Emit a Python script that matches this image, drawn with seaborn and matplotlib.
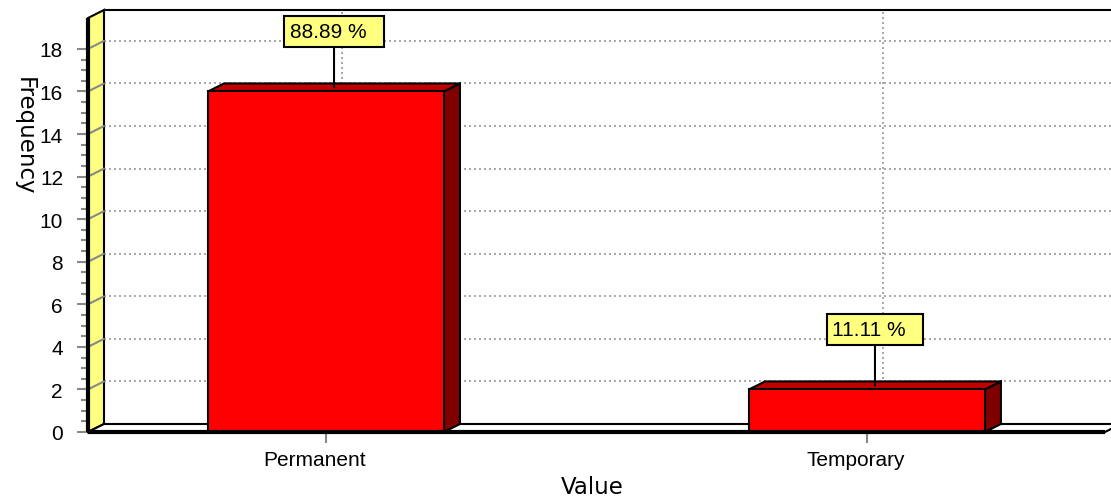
import matplotlib
matplotlib.use("Agg")
import matplotlib.pyplot as plt
import matplotlib.transforms as mtransforms
from matplotlib.patches import Polygon
from matplotlib.ticker import FixedLocator
import numpy as np
import seaborn as sns

categories = ["Permanent", "Temporary"]
counts = [16, 2]
y_ticks = [0, 2, 4, 6, 8, 10, 12, 14, 16, 18]

sns.set_theme(style="white")
plt.rcParams["font.family"] = ["Liberation Sans", "DejaVu Sans"]
plt.rcParams["text.color"] = "black"

DPI = 100
fig = plt.figure(figsize=(11.11, 5.02), dpi=DPI)
ax = fig.add_axes([88 / 1111, 69 / 502, 1017 / 1111, 414 / 502])

sns.barplot(x=categories, y=counts, width=0.436, color="#FF0000", saturation=1,
            edgecolor="black", linewidth=1.5, ax=ax, zorder=3)

x0, x1 = -0.44, 1.44
ytop = 19.45
ax.set_xlim(x0, x1)
ax.set_ylim(0, ytop)
for s in ax.spines.values():
    s.set_visible(False)

# depth offset for the pseudo-3D look
DX, DY = 16, 8
back = ax.transData + mtransforms.ScaledTranslation(DX / DPI, DY / DPI, fig.dpi_scale_trans)
mid = ax.transData + mtransforms.ScaledTranslation(DX / 2 / DPI, DY / 2 / DPI, fig.dpi_scale_trans)

# back wall grid
for y in y_ticks[1:]:
    ax.plot([x0, x1], [y, y], transform=back, color="#999999", lw=1.2,
            ls=(0, (1.2, 1.8)), zorder=0.5, clip_on=False)
for i in range(len(categories)):
    ax.plot([i, i], [0, ytop], transform=back, color="#999999", lw=1.2,
            ls=(0, (1.2, 1.8)), zorder=0.5, clip_on=False)
ax.plot([x0, x1 + 0.1], [ytop, ytop], transform=back, color="black", lw=1.5,
        zorder=0.6, clip_on=False)

# diagonal tick connectors across the wall
for y in y_ticks[1:]:
    pf = ax.transData.transform((x0, y))
    pb = back.transform((x0, y))
    ax.plot([pf[0], pb[0]], [pf[1], pb[1]], transform=None, color="#888888",
            lw=1.5, zorder=1.6, clip_on=False)

# left wall
wall_f = ax.transData.transform([(x0, 0), (x0, ytop)])
wall_b = back.transform([(x0, ytop), (x0, 0)])
ax.add_patch(Polygon(np.vstack([wall_f, wall_b]), closed=True, transform=None,
                     fc="#FFFF80", ec="black", lw=1.5, zorder=1, clip_on=False))

# floor
fl_f = ax.transData.transform([(x0, 0), (x1, 0)])
fl_b = back.transform([(x1, 0), (x0, 0)])
ax.add_patch(Polygon(np.vstack([fl_f, fl_b]), closed=True, transform=None,
                     fc="white", ec="black", lw=1.5, zorder=1, clip_on=False))

# bar sides and tops
for p in ax.patches[:]:
    if p.get_zorder() != 3:
        continue
    bx, bw, bh = p.get_x(), p.get_width(), p.get_height()
    side = np.vstack([ax.transData.transform([(bx + bw, 0), (bx + bw, bh)]),
                      back.transform([(bx + bw, bh), (bx + bw, 0)])])
    top = np.vstack([ax.transData.transform([(bx, bh), (bx + bw, bh)]),
                     back.transform([(bx + bw, bh), (bx, bh)])])
    ax.add_patch(Polygon(side, closed=True, transform=None, fc="#800000",
                         ec="black", lw=1.5, zorder=2.5, clip_on=False))
    ax.add_patch(Polygon(top, closed=True, transform=None, fc="#C00000",
                         ec="black", lw=1.5, zorder=2.5, clip_on=False))

# thick front edges
ax.plot([x0, x0], [0, ytop], color="black", lw=3, zorder=4, clip_on=False,
        solid_capstyle="butt")
ax.plot([x0, x1], [0, 0], color="black", lw=3, zorder=4, clip_on=False,
        solid_capstyle="butt")

# percentage labels
total = sum(counts)
for i, c in enumerate(counts):
    ax.annotate(f"{100 * c / total:.2f} %  ", xy=(i, c), xycoords=mid,
                xytext=(0, 56), textcoords="offset pixels", ha="center",
                va="center", fontsize=15, color="black", zorder=6,
                bbox=dict(boxstyle="square,pad=0.28", fc="#FFFF80", ec="black", lw=1.5),
                arrowprops=dict(arrowstyle="-", color="black", lw=1.5,
                                shrinkA=0, shrinkB=0))

# ticks
ax.yaxis.set_major_locator(FixedLocator(y_ticks))
ax.yaxis.set_minor_locator(FixedLocator(np.arange(0, 18.01, 0.5)))
ax.tick_params(axis="y", which="major", left=True, length=8, width=1.5,
               color="#888888", pad=10, labelsize=15, labelcolor="black")
ax.tick_params(axis="y", which="minor", left=True, length=5, width=1.5,
               color="#888888")
ax.tick_params(axis="x", which="major", bottom=True, length=8, width=1.5,
               color="#888888", pad=5, labelsize=15, labelcolor="black")
shift = mtransforms.ScaledTranslation(-11 / DPI, 0, fig.dpi_scale_trans)
for lab in ax.get_xticklabels():
    lab.set_transform(lab.get_transform() + shift)
ax.set_xlabel("")
ax.set_ylabel("")

fig.text(24 / 1111, 1 - 136 / 502, "Frequency", rotation=-90, ha="center",
         va="center", fontsize=16.5, family="DejaVu Sans", color="black")
fig.text(592 / 1111, 1 - 488 / 502, "Value", ha="center", va="center",
         fontsize=16.5, family="DejaVu Sans", color="black")

fig.savefig("out.png", dpi=DPI)
